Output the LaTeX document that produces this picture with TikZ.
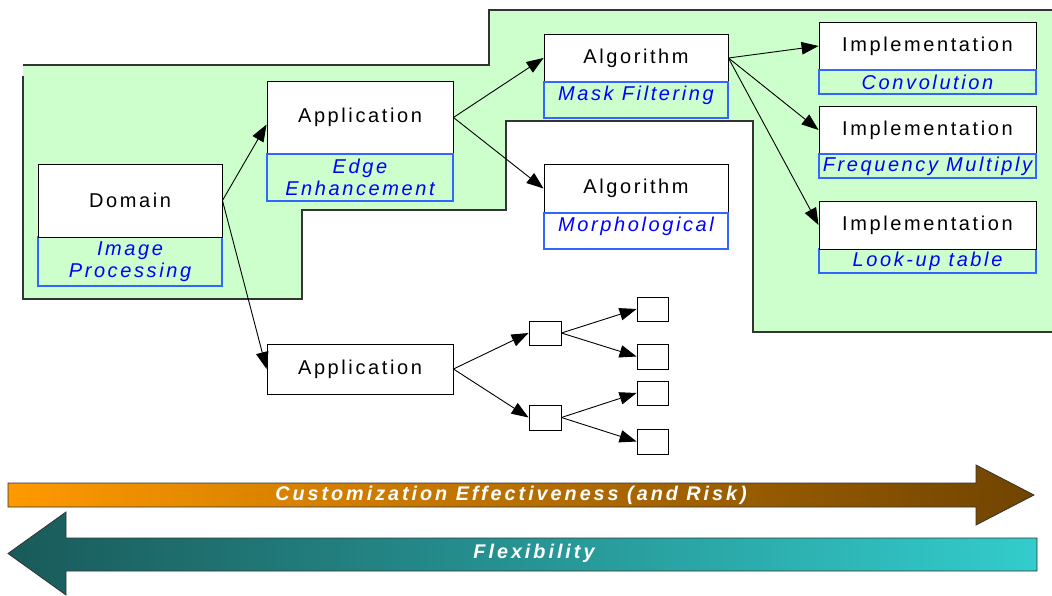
\documentclass[tikz,border=0pt]{standalone}
\usepackage{fontspec}
\setmainfont{Liberation Sans}
\newfontfamily\trk[LetterSpace=13]{Liberation Sans}
\newfontfamily\trkb[LetterSpace=15]{Liberation Sans}
\usetikzlibrary{arrows.meta}
\definecolor{gfill}{HTML}{CCFFCC}
\definecolor{gline}{HTML}{333333}
\definecolor{bline}{HTML}{3366FF}
\definecolor{txtblue}{HTML}{0000FF}
\definecolor{orA}{HTML}{FF9900}
\definecolor{orB}{HTML}{DD8800}
\definecolor{orC}{HTML}{704400}
\definecolor{tlA}{HTML}{1A5A5A}
\definecolor{tlB}{HTML}{249494}
\definecolor{tlC}{HTML}{33CCCC}
\begin{document}
\begin{tikzpicture}[x=1pt,y=-1pt,
  wbox/.style={draw=black,fill=white,line width=0.9pt,inner sep=1pt,
    font=\trk\fontsize{20}{22}\selectfont},
  bbox/.style={draw=bline,line width=1.1pt,inner sep=1pt,align=center,text=txtblue,
    font=\trk\itshape\fontsize{20}{22}\selectfont},
  sbox/.style={draw=black,fill=white,line width=0.9pt,inner sep=0pt},
  arr/.style={-{Triangle[length=17pt,width=12.5pt]},line width=0.9pt},
  bandtext/.style={text=white,font=\trkb\bfseries\itshape\fontsize{19.8}{21}\selectfont}
]
\useasboundingbox (0,0) rectangle (1052,596);
% green region
\fill[gfill] (23,65) -- (489,65) -- (489,10) -- (1052,10) -- (1052,332) -- (753,332)
  -- (753,121) -- (506,121) -- (506,210) -- (302,210) -- (302,299) -- (23,299) -- cycle;
\draw[gline,line width=1.1pt] (23,65) -- (489,65) -- (489,10) -- (1052,10);
\draw[gline,line width=1.1pt] (1052,332) -- (753,332)
  -- (753,121) -- (506,121) -- (506,210) -- (302,210) -- (302,299) -- (23,299) -- (23,76);

% Domain
\node[bbox,minimum width=184pt,minimum height=49pt] (domS) at (130,261.5) {Image\\Processing};
\node[wbox,minimum width=184pt,minimum height=73pt] (dom) at (130,200.5) {Domain};
% Application (top)
\node[wbox,minimum width=186pt,minimum height=73pt] (app) at (360,117.5) {Application};
\node[bbox,minimum width=186pt,minimum height=47pt] (appS) at (360,177.5) {Edge\\Enhancement};
% Algorithm mask
\node[wbox,minimum width=184pt,minimum height=48pt] (alg1) at (636,58) {Algorithm};
\node[bbox,minimum width=184pt,minimum height=36pt,text depth=13pt] (alg1S) at (636,100) {Mask Filtering};
% Algorithm morph
\node[wbox,minimum width=184pt,minimum height=49pt] (alg2) at (636,188.5) {Algorithm};
\node[bbox,minimum width=184pt,minimum height=36pt,text depth=13pt] (alg2S) at (636,231) {Morphological};
% Implementations
\node[wbox,minimum width=217pt,minimum height=48pt] (imp1) at (927.5,46) {Implementation};
\node[bbox,minimum width=217pt,minimum height=24pt] (imp1S) at (927.5,82) {Convolution};
\node[wbox,minimum width=217pt,minimum height=48pt] (imp2) at (927.5,130) {Implementation};
\node[bbox,minimum width=217pt,minimum height=24pt] (imp2S) at (927.5,166) {Frequency Multiply};
\node[bbox,minimum width=217pt,minimum height=24pt] (imp3S) at (927.5,261) {Look-up table};
\node[wbox,minimum width=217pt,minimum height=48pt] (imp3) at (927.5,225) {Implementation};
% Application (bottom)
\node[wbox,minimum width=186pt,minimum height=50pt] (app2) at (360,369) {Application};
% small boxes
\node[sbox,minimum width=32pt,minimum height=24pt] (s1) at (545,333) {};
\node[sbox,minimum width=32pt,minimum height=25pt] (s2) at (545,417.5) {};
\node[sbox,minimum width=31pt,minimum height=24pt] (t1) at (652.5,309) {};
\node[sbox,minimum width=31pt,minimum height=25pt] (t2) at (652.5,356.5) {};
\node[sbox,minimum width=31pt,minimum height=24pt] (t3) at (652.5,393) {};
\node[sbox,minimum width=31pt,minimum height=25pt] (t4) at (652.5,441.5) {};

% connectors
\draw[arr] (dom.east) -- ([yshift=-7pt]app.west);
\draw[arr] (dom.east) -- (app2.west);
\draw[arr] (app.east) -- (alg1.west);
\draw[arr] (app.east) -- (alg2.west);
\draw[arr] (alg1.east) -- (imp1.west);
\draw[arr] (alg1.east) -- (imp2.west);
\draw[arr] (alg1.east) -- (imp3.west);
\draw[arr] (app2.east) -- (s1.west);
\draw[arr] (app2.east) -- (s2.west);
\draw[arr] (s1.east) -- (t1.west);
\draw[arr] (s1.east) -- (t2.west);
\draw[arr] (s2.east) -- (t3.west);
\draw[arr] (s2.east) -- (t4.west);

% bands
\draw[draw=gline,line width=0.8pt,left color=orA,middle color=orB,right color=orC]
  (8,483) -- (976,483) -- (976,465) -- (1034,495) -- (976,525) -- (976,507) -- (8,507) -- cycle;
\node[bandtext] (cust) at (511,495) {Customization Effectiveness (and Risk)};
\draw[draw=gline,line width=0.8pt,left color=tlA,middle color=tlB,right color=tlC]
  (1037,538) -- (66,538) -- (66,512) -- (8,553.5) -- (66,595) -- (66,571) -- (1037,571) -- cycle;
\node[bandtext] (flex) at (534,553) {Flexibility};
\end{tikzpicture}
\end{document}
